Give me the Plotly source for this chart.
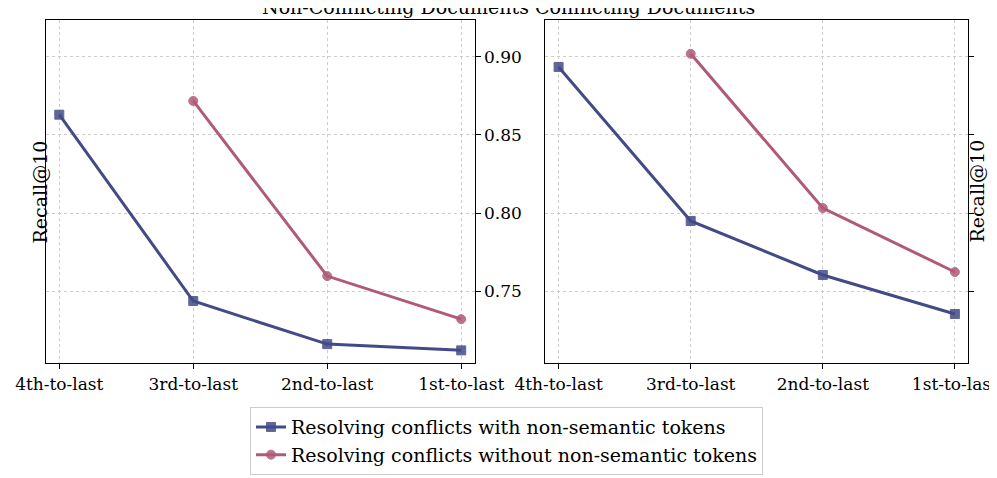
import plotly.graph_objects as go

cats = ["4th-to-last", "3rd-to-last", "2nd-to-last", "1st-to-last"]
nc_with = [0.863, 0.7436, 0.716, 0.712]
nc_without = [None, 0.8718, 0.7596, 0.732]
c_with = [0.8936, 0.7949, 0.7603, 0.7353]
c_without = [None, 0.902, 0.8032, 0.7622]

blue = "#434b87"; red = "#b05a78"
font = dict(family="DejaVu Serif", color="black")
fig = go.Figure()
def add(y, name, color, sym, xa, ya, show):
    fig.add_trace(go.Scatter(x=cats, y=y, name=name, mode="lines+markers",
        line=dict(color=color, width=3), marker=dict(symbol=sym, size=9, color=color, opacity=0.85,
        line=dict(color=color, width=1)), xaxis=xa, yaxis=ya, showlegend=show, connectgaps=False))
add(nc_with, "Resolving conflicts with non-semantic tokens", blue, "square", "x", "y", True)
add(nc_without, "Resolving conflicts without non-semantic tokens", red, "circle", "x", "y", True)
add(c_with, "a", blue, "square", "x2", "y2", False)
add(c_without, "b", red, "circle", "x2", "y2", False)

rng = [0.7038, 0.9237]
ax = dict(showline=True, linecolor="black", mirror=True, ticks="outside", tickcolor="black",
          showgrid=True, gridcolor="#cccccc", griddash="dot", gridwidth=1,
          tickfont=dict(size=17, family="DejaVu Serif"), zeroline=False)
fig.update_layout(
    width=997, height=478, margin=dict(l=0, r=0, t=0, b=0, autoexpand=False),
    plot_bgcolor="white", paper_bgcolor="white", font=font,
    xaxis=dict(domain=[0.038, 0.468], range=[-0.1, 3.1], **ax),
    xaxis2=dict(domain=[0.539, 0.963], range=[-0.1, 3.1], **ax),
    yaxis=dict(domain=[0.257, 0.975], range=rng, side="right", tickvals=[0.75, 0.8, 0.85, 0.9],
               tickformat=".2f", **ax),
    yaxis2=dict(domain=[0.257, 0.975], range=rng, side="right", tickvals=[0.75, 0.8, 0.85, 0.9],
                showticklabels=False, anchor="x2", **ax),
    legend=dict(x=0.5, y=0.165, xanchor="center", yanchor="top", bordercolor="#cccccc",
                borderwidth=1, font=dict(size=19, family="DejaVu Serif")),
    annotations=[
        dict(text="Non-Conflicting Documents", x=0.253, y=0.975, xref="paper", yref="paper",
             yanchor="bottom", showarrow=False, font=dict(size=19)),
        dict(text="Conflicting Documents", x=0.751, y=0.975, xref="paper", yref="paper",
             yanchor="bottom", showarrow=False, font=dict(size=19)),
        dict(text="Recall@10", x=0.019, y=0.616, xref="paper", yref="paper", textangle=-90,
             showarrow=False, font=dict(size=19)),
        dict(text="Recall@10", x=0.985, y=0.616, xref="paper", yref="paper", textangle=-90,
             showarrow=False, font=dict(size=19)),
    ])
fig.write_html("out.html")
